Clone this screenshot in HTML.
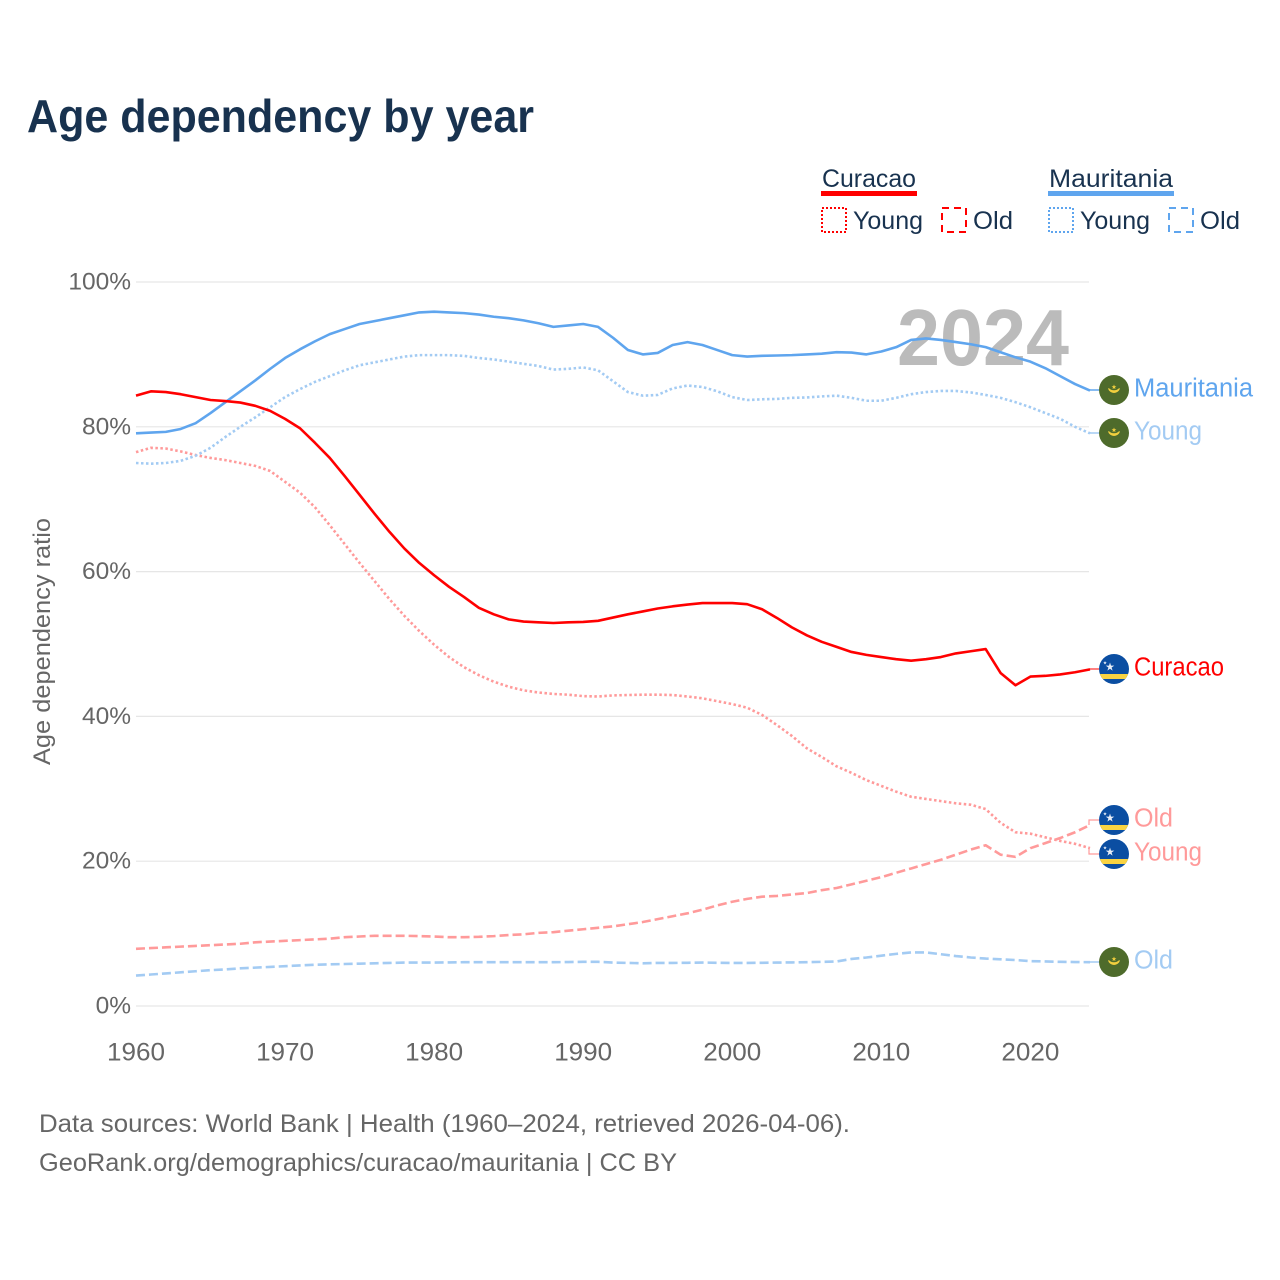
<!DOCTYPE html>
<html lang="en">
<head>
<meta charset="utf-8">
<title>Age dependency by year</title>
<style>
html,body{margin:0;padding:0;background:#fff;width:1280px;height:1280px;overflow:hidden}
svg{display:block}
text{font-family:"Liberation Sans",Arial,sans-serif}
</style>
</head>
<body>
<svg id="chart" xmlns="http://www.w3.org/2000/svg" width="1280" height="1280" viewBox="0 0 1280 1280">
  <defs>
    <clipPath id="flag-clip"><circle cx="0" cy="0" r="15"/></clipPath>
    <g id="flag-cw">
      <g clip-path="url(#flag-clip)">
        <rect x="-15" y="-15" width="30" height="30" fill="#0b4ea2"/>
        <rect x="-15" y="5" width="30" height="5" fill="#f9d342"/>
        <polygon points="-4,-6.5 -3,-3.4 0.3,-3.4 -2.4,-1.5 -1.4,1.6 -4,-0.3 -6.6,1.6 -5.6,-1.5 -8.3,-3.4 -5,-3.4" fill="#e9eef7"/>
        <polygon points="-9,-8 -8.5,-6.7 -7.2,-6.7 -8.3,-5.9 -7.9,-4.6 -9,-5.4 -10.1,-4.6 -9.7,-5.9 -10.8,-6.7 -9.5,-6.7" fill="#e9eef7"/>
      </g>
    </g>
    <g id="flag-mr">
      <g clip-path="url(#flag-clip)">
        <rect x="-15" y="-15" width="30" height="30" fill="#4e6b2b"/>
        <path d="M-5.5,-1.5 A5.8,5.8 0 0 0 5.5,-1.5 A7,6 0 0 1 -5.5,-1.5 Z" fill="#f2cf3e" stroke="#f2cf3e" stroke-width="1"/>
        <polygon points="0,-5.5 0.7,-3.7 2.4,-3.7 1,-2.6 1.5,-0.9 0,-1.9 -1.5,-0.9 -1,-2.6 -2.4,-3.7 -0.7,-3.7" fill="#f2cf3e"/>
      </g>
    </g>
  </defs>

  <text x="27" y="132" font-size="46" font-weight="700" fill="#18324f" textLength="507" lengthAdjust="spacingAndGlyphs">Age dependency by year</text>

  <g>
    <g>
      <text x="822" y="187" font-size="25" fill="#18324f" textLength="94" lengthAdjust="spacingAndGlyphs">Curacao</text>
      <rect x="821" y="191" width="96" height="5" fill="#ff0000"/>
      <rect x="822" y="208" width="24" height="24" fill="none" stroke="#ff0000" stroke-width="2" stroke-dasharray="2 2"/>
      <text x="853" y="229" font-size="25" fill="#18324f" textLength="70" lengthAdjust="spacingAndGlyphs">Young</text>
      <rect x="942" y="208" width="24" height="24" fill="none" stroke="#ff0000" stroke-width="2" stroke-dasharray="7 5"/>
      <text x="973" y="229" font-size="25" fill="#18324f" textLength="40" lengthAdjust="spacingAndGlyphs">Old</text>
    </g>
    <g>
      <text x="1049" y="187" font-size="25" fill="#18324f" textLength="124" lengthAdjust="spacingAndGlyphs">Mauritania</text>
      <rect x="1048" y="191" width="126" height="5" fill="#5fa5ee"/>
      <rect x="1049" y="208" width="24" height="24" fill="none" stroke="#5fa5ee" stroke-width="2" stroke-dasharray="2 2"/>
      <text x="1080" y="229" font-size="25" fill="#18324f" textLength="70" lengthAdjust="spacingAndGlyphs">Young</text>
      <rect x="1169" y="208" width="24" height="24" fill="none" stroke="#5fa5ee" stroke-width="2" stroke-dasharray="7 5"/>
      <text x="1200" y="229" font-size="25" fill="#18324f" textLength="40" lengthAdjust="spacingAndGlyphs">Old</text>
    </g>
  </g>

  <g id="grid"></g>
  <text x="897" y="365" font-size="80" font-weight="700" fill="#bbbbbb" textLength="172" lengthAdjust="spacingAndGlyphs">2024</text>
  <g id="y-axis"></g>
  <g id="x-axis"></g>
  <text transform="translate(50,641.5) rotate(-90)" text-anchor="middle" font-size="24" fill="#666666" textLength="247" lengthAdjust="spacingAndGlyphs">Age dependency ratio</text>
  <g id="series"></g>

  <g>
    <path d="M1089,390H1099" fill="none" stroke="#5fa5ee" stroke-width="1.5"/>
    <path d="M1089,433H1099" fill="none" stroke="#a3cbf3" stroke-width="1.5"/>
    <path d="M1089,669H1099" fill="none" stroke="#ff0000" stroke-width="1"/>
    <path d="M1089,825V820H1099" fill="none" stroke="#ff9a9a" stroke-width="1.2"/>
    <path d="M1089,848V854H1099" fill="none" stroke="#ff9a9a" stroke-width="1.2"/>
    <path d="M1089,962H1099" fill="none" stroke="#a3cbf3" stroke-width="1.5"/>
    <use href="#flag-mr" x="1114" y="390"/>
    <use href="#flag-mr" x="1114" y="433"/>
    <use href="#flag-cw" x="1114" y="669"/>
    <use href="#flag-cw" x="1114" y="820"/>
    <use href="#flag-cw" x="1114" y="854"/>
    <use href="#flag-mr" x="1114" y="962"/>
    <text x="1134" y="396.5" font-size="25.5" fill="#5fa5ee" textLength="119" lengthAdjust="spacingAndGlyphs">Mauritania</text>
    <text x="1134" y="439.5" font-size="25.5" fill="#a3cbf3" textLength="68" lengthAdjust="spacingAndGlyphs">Young</text>
    <text x="1134" y="675.5" font-size="25.5" fill="#ff0000" textLength="90" lengthAdjust="spacingAndGlyphs">Curacao</text>
    <text x="1134" y="826.5" font-size="25.5" fill="#ff9a9a" textLength="39" lengthAdjust="spacingAndGlyphs">Old</text>
    <text x="1134" y="860.5" font-size="25.5" fill="#ff9a9a" textLength="68" lengthAdjust="spacingAndGlyphs">Young</text>
    <text x="1134" y="968.5" font-size="25.5" fill="#a3cbf3" textLength="39" lengthAdjust="spacingAndGlyphs">Old</text>
  </g>

  <text x="39" y="1132" font-size="25" fill="#666666" textLength="811" lengthAdjust="spacingAndGlyphs">Data sources: World Bank | Health (1960–2024, retrieved 2026-04-06).</text>
  <text x="39" y="1171" font-size="25" fill="#666666" textLength="638" lengthAdjust="spacingAndGlyphs">GeoRank.org/demographics/curacao/mauritania | CC BY</text>
</svg>
<script>
const startYear = 1960;
const endYear = 2024;
const yTicks = [0, 20, 40, 60, 80, 100];
const xTicks = [1960, 1970, 1980, 1990, 2000, 2010, 2020];

const curacaoTotal = [84.3,84.9,84.8,84.5,84.1,83.7,83.55,83.35,82.9,82.2,81.1,79.8,77.8,75.7,73.2,70.6,68.0,65.5,63.2,61.2,59.5,57.9,56.5,55.0,54.1,53.4,53.1,53.0,52.9,53.0,53.05,53.2,53.65,54.1,54.5,54.9,55.2,55.45,55.65,55.65,55.65,55.5,54.8,53.6,52.3,51.2,50.3,49.6,48.9,48.5,48.2,47.9,47.7,47.9,48.2,48.7,49.0,49.3,46.0,44.3,45.5,45.6,45.8,46.1,46.5];
const curacaoYoung = [76.5,77.1,77.0,76.6,76.1,75.7,75.4,75.0,74.6,73.9,72.4,70.9,68.9,66.4,63.8,61.2,58.7,56.2,53.9,51.8,49.9,48.2,46.8,45.7,44.8,44.1,43.6,43.3,43.1,43.0,42.8,42.75,42.9,42.95,43.0,43.0,42.95,42.75,42.5,42.1,41.7,41.2,40.2,38.8,37.3,35.6,34.4,33.1,32.2,31.2,30.4,29.6,28.9,28.6,28.3,28.0,27.8,27.2,25.3,24.0,23.8,23.3,22.8,22.4,21.8];
const curacaoOld = [7.9,8.0,8.1,8.2,8.3,8.4,8.5,8.6,8.8,8.9,9.0,9.1,9.2,9.3,9.5,9.6,9.7,9.7,9.7,9.65,9.6,9.5,9.5,9.55,9.65,9.8,9.9,10.1,10.2,10.4,10.6,10.8,11.0,11.3,11.6,12.0,12.4,12.8,13.3,13.9,14.4,14.8,15.1,15.2,15.4,15.6,16.0,16.3,16.8,17.3,17.8,18.4,19.0,19.6,20.2,20.9,21.6,22.2,20.9,20.6,21.8,22.5,23.2,24.0,25.0];
const mauritaniaTotal = [79.1,79.2,79.3,79.7,80.5,81.9,83.4,84.9,86.4,88.0,89.5,90.7,91.8,92.8,93.5,94.2,94.6,95.0,95.4,95.8,95.9,95.8,95.7,95.5,95.2,95.0,94.7,94.3,93.8,94.0,94.2,93.8,92.3,90.6,90.0,90.2,91.3,91.7,91.3,90.6,89.9,89.7,89.8,89.85,89.9,90.0,90.1,90.3,90.25,90.0,90.4,91.0,92.0,92.2,92.0,91.7,91.4,91.0,90.3,89.6,89.0,88.1,87.0,85.9,85.0];
const mauritaniaYoung = [75.0,74.9,75.0,75.3,76.0,77.1,78.6,80.0,81.3,82.7,84.1,85.2,86.2,87.0,87.8,88.5,88.9,89.3,89.7,89.9,89.9,89.9,89.8,89.5,89.3,89.0,88.7,88.4,87.9,88.0,88.2,87.8,86.3,84.8,84.3,84.4,85.3,85.7,85.5,84.9,84.1,83.7,83.8,83.85,84.0,84.05,84.2,84.3,84.0,83.6,83.6,84.0,84.5,84.8,84.95,84.95,84.75,84.4,84.0,83.4,82.7,81.9,81.1,80.0,79.1];
const mauritaniaOld = [4.2,4.35,4.5,4.65,4.8,4.95,5.05,5.2,5.3,5.4,5.5,5.6,5.7,5.75,5.8,5.85,5.9,5.95,6.0,6.0,6.0,6.02,6.05,6.05,6.05,6.05,6.05,6.05,6.05,6.07,6.1,6.1,6.0,5.95,5.9,5.95,5.95,5.97,6.0,5.97,5.95,5.95,5.97,6.0,6.02,6.05,6.1,6.15,6.5,6.7,6.95,7.2,7.4,7.4,7.15,6.9,6.7,6.55,6.45,6.35,6.2,6.15,6.1,6.07,6.05];

function xScale(year) { return 136 + (year - startYear) * (1090 - 136) / (endYear - startYear); }
function yScale(value) { return 1006 - value * (1006 - 282) / 100; }

const NS = 'http://www.w3.org/2000/svg';
const gridGroup = document.getElementById('grid');
const yAxisGroup = document.getElementById('y-axis');
const xAxisGroup = document.getElementById('x-axis');
const seriesGroup = document.getElementById('series');

yTicks.forEach(function (tick) {
  const line = document.createElementNS(NS, 'line');
  
  
  line.setAttribute('x1', xScale(startYear));
  line.setAttribute('x2', 1089);
  line.setAttribute('y1', yScale(tick));
  line.setAttribute('y2', yScale(tick));
  line.setAttribute('stroke', '#e6e6e6');
  line.setAttribute('stroke-width', '1.2');
  gridGroup.appendChild(line);
  const label = document.createElementNS(NS, 'text');
  
  
  label.setAttribute('x', 131);
  label.setAttribute('y', yScale(tick) + 7.5);
  label.setAttribute('text-anchor', 'end');
  label.setAttribute('font-size', '24.5');
  label.setAttribute('fill', '#666666');
  label.textContent = tick + '%';
  yAxisGroup.appendChild(label);
});

xTicks.forEach(function (tick) {
  const label = document.createElementNS(NS, 'text');
  
  
  label.setAttribute('x', xScale(tick));
  label.setAttribute('y', 1060.5);
  label.setAttribute('text-anchor', 'middle');
  label.setAttribute('font-size', '25');
  label.setAttribute('fill', '#666666');
  label.setAttribute('textLength', '58');
  label.setAttribute('lengthAdjust', 'spacingAndGlyphs');
  label.textContent = String(tick);
  xAxisGroup.appendChild(label);
});

function drawSeries(values, color, dash, width, name) {
  const d = values.map(function (v, i) {
    return (i ? 'L' : 'M') + xScale(startYear + i).toFixed(2) + ',' + yScale(v).toFixed(2);
  }).join('');
  const path = document.createElementNS(NS, 'path');
  
  
  path.setAttribute('d', d);
  path.setAttribute('fill', 'none');
  path.setAttribute('stroke', color);
  path.setAttribute('stroke-width', width);
  path.setAttribute('stroke-linejoin', 'round');
  if (dash) path.setAttribute('stroke-dasharray', dash);
  seriesGroup.appendChild(path);
}

drawSeries(mauritaniaOld, '#a3cbf3', '9 4', 2.6, 'line-mauritania-old');
drawSeries(curacaoOld, '#ff9a9a', '9 4', 2.6, 'line-curacao-old');
drawSeries(curacaoYoung, '#ff9a9a', '2.5 2.5', 2.6, 'line-curacao-young');
drawSeries(mauritaniaYoung, '#a3cbf3', '2.5 2.5', 2.6, 'line-mauritania-young');
drawSeries(mauritaniaTotal, '#5fa5ee', null, 2.6, 'line-mauritania-total');
drawSeries(curacaoTotal, '#ff0000', null, 2.6, 'line-curacao-total');
</script>
</body>
</html>
